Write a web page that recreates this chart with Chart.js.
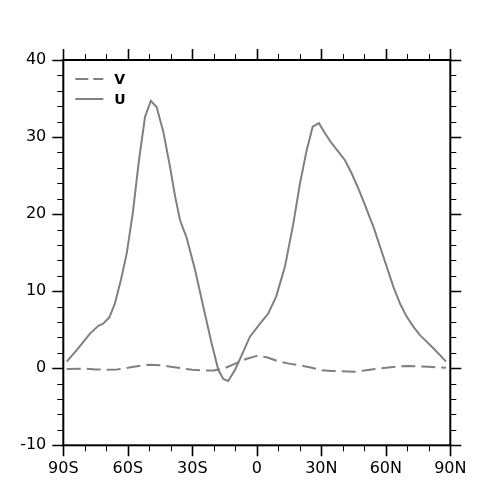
<!DOCTYPE html>
<html><head><meta charset="utf-8">
<script src="https://cdn.jsdelivr.net/npm/chart.js@4/dist/chart.umd.min.js"></script>
<style>html,body{margin:0;padding:0;background:#fff}#w{width:500px;height:500px}</style>
</head><body><div id="w"><canvas id="c" width="500" height="500"></canvas></div>
<script>
const uLat = [-88.4,-83.0,-77.6,-73.7,-71.4,-68.6,-66.0,-63.2,-60.5,-57.7,-54.8,-52.0,-49.3,-46.6,-43.5,-40.4,-38.0,-35.7,-32.6,-28.7,-24.9,-21.0,-17.9,-15.6,-13.3,-10.1,-7.0,-3.2,1.5,5.3,9.0,13.1,17.0,20.1,23.2,26.0,28.9,31.7,34.8,37.9,41.0,44.1,47.2,50.3,52.6,54.2,57.3,60.4,63.5,66.6,69.7,72.8,75.9,79.0,82.1,85.2,88.0];
const uVal = [0.85,2.6,4.5,5.5,5.8,6.6,8.4,11.45,14.9,20.1,27.0,32.6,34.7,33.9,30.7,26.2,22.3,19.2,16.9,12.75,8.0,3.2,-0.2,-1.4,-1.65,-0.2,1.7,4.1,5.8,7.1,9.3,13.2,18.8,24.0,28.3,31.35,31.8,30.5,29.2,28.1,27.0,25.3,23.35,21.2,19.5,18.4,15.8,13.2,10.6,8.4,6.7,5.4,4.3,3.45,2.6,1.7,0.85];
const vLat = [-88.4,-80,-75,-70,-65,-60,-55,-50,-45,-40,-35,-30,-25,-20,-15,-10,-5,0,5,10,15,20,25,30,35,40,45,50,55,60,65,70,75,80,85,88.0];
const vVal = [-0.1,-0.05,-0.15,-0.2,-0.15,0.05,0.3,0.45,0.4,0.2,0.0,-0.2,-0.3,-0.3,0.0,0.6,1.2,1.6,1.4,0.9,0.6,0.4,0.1,-0.25,-0.35,-0.4,-0.45,-0.3,-0.1,0.05,0.2,0.3,0.25,0.2,0.1,0.05];
const xTicks = [-90,-60,-30,0,30,60,90];
const xTickLabels = ['90S','60S','30S','0','30N','60N','90N'];
const yTicks = [-10,0,10,20,30,40];
const seriesNames = ['V','U'];

const toXY = (xs, ys) => xs.map((x,i)=>({x:x,y:ys[i]}));
const GRAY = '#808080';
const FONT = "'DejaVu Sans', sans-serif";

const framePlugin = {
  id:'frame',
  afterDraw(chart){
    const ctx = chart.ctx, xs = chart.scales.x, ys = chart.scales.y, a = chart.chartArea;
    ctx.save();
    ctx.strokeStyle = '#000';
    ctx.lineWidth = 2;
    ctx.strokeRect(a.left, a.top, a.right-a.left, a.bottom-a.top);
    for (let v=-90; v<=90; v+=10){
      const px = Math.round(xs.getPixelForValue(v))+0.5;
      const major = (v % 30 === 0);
      const L = major ? 11 : 6;
      ctx.lineWidth = major ? 1.6 : 1;
      ctx.beginPath();
      ctx.moveTo(px, a.bottom); ctx.lineTo(px, a.bottom+L);
      ctx.moveTo(px, a.top); ctx.lineTo(px, a.top-L);
      ctx.stroke();
    }
    for (let v=-10; v<=40; v+=2){
      const py = Math.round(ys.getPixelForValue(v))+0.5;
      const major = (v % 10 === 0);
      const L = major ? 11 : 6;
      ctx.lineWidth = major ? 1.6 : 1;
      ctx.beginPath();
      ctx.moveTo(a.left, py); ctx.lineTo(a.left-L, py);
      ctx.moveTo(a.right, py); ctx.lineTo(a.right+L, py);
      ctx.stroke();
    }
    const lx0 = a.left+12, lx1 = a.left+40, tx = a.left+51;
    const rows = [{name:seriesNames[0], dash:[13,5], y:a.top+19},{name:seriesNames[1], dash:[], y:a.top+39}];
    ctx.strokeStyle = GRAY; ctx.lineWidth = 2;
    ctx.font = "bold 14px " + FONT; ctx.fillStyle='#000'; ctx.textBaseline='middle'; ctx.textAlign='left';
    rows.forEach(r=>{
      ctx.setLineDash(r.dash);
      ctx.beginPath(); ctx.moveTo(lx0, r.y); ctx.lineTo(lx1, r.y); ctx.stroke();
      ctx.setLineDash([]);
      ctx.fillText(r.name, tx, r.y+1);
    });
    ctx.restore();
  }
};

new Chart(document.getElementById('c'), {
  type:'line',
  data:{datasets:[
    {label:seriesNames[0], data:toXY(vLat,vVal), borderColor:GRAY, borderWidth:2, borderDash:[14,6], pointRadius:0, tension:0, fill:false},
    {label:seriesNames[1], data:toXY(uLat,uVal), borderColor:GRAY, borderWidth:2, pointRadius:0, tension:0, fill:false}
  ]},
  options:{
    responsive:false, animation:false, devicePixelRatio:1,
    layout:{padding:{top:60, right:49.7, left:0, bottom:0}},
    plugins:{legend:{display:false}, tooltip:{enabled:false}},
    scales:{
      x:{type:'linear', min:-90, max:90,
        afterFit(s){ s.height = 54.7; },
        afterBuildTicks(s){ s.ticks = xTicks.map(v=>({value:v})); },
        grid:{display:false, drawTicks:false}, border:{display:false},
        ticks:{color:'#000', font:{family:FONT, size:16}, padding:14, maxRotation:0, autoSkip:false,
          callback:(v)=>{ const i = xTicks.indexOf(v); return i>=0 ? xTickLabels[i] : ''; }}
      },
      y:{type:'linear', min:-10, max:40,
        afterFit(s){ s.width = 63.3; },
        afterBuildTicks(s){ s.ticks = yTicks.map(v=>({value:v})); },
        grid:{display:false, drawTicks:false}, border:{display:false},
        ticks:{color:'#000', font:{family:FONT, size:16}, padding:17, autoSkip:false}
      }
    }
  },
  plugins:[framePlugin]
});
</script></body></html>
